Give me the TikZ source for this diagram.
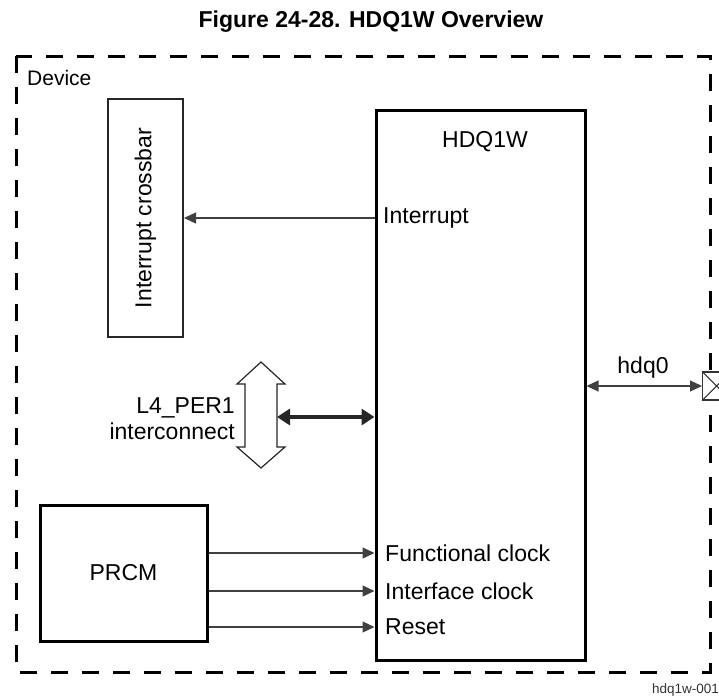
\documentclass[tikz,border=0pt]{standalone}
\usepackage{fontspec}
\setmainfont{Liberation Sans}
\usetikzlibrary{arrows.meta}
\newcommand{\lab}{\fontsize{23}{26}\selectfont}
\tikzset{
  box/.style={draw=black, fill=white, line width=3pt, inner sep=0pt},
  thinbox/.style={draw=black!85, fill=white, line width=2pt, inner sep=0pt},
  lbl/.style={font=\lab, inner sep=0pt, anchor=west},
  sig/.style={draw=black!75, line width=1.2pt, -{Triangle[length=12pt,width=11pt]}},
  bus/.style={draw=black!85, line width=3.5pt, {Triangle[length=13pt,width=16pt]}-{Triangle[length=13pt,width=16pt]}},
  frame/.style={draw=black, line width=3pt, dash pattern=on 17pt off 14pt}
}
\begin{document}
\begin{tikzpicture}[x=1pt,y=-1pt]
\useasboundingbox (0,0) rectangle (719,696);
\clip (0,0) rectangle (719,696);
% title
\node[font=\fontsize{23}{26}\selectfont\bfseries, inner sep=0pt, anchor=base] (title) at (371,27) {Figure 24-28. HDQ1W Overview};
% frame
\draw[frame] (16,56) rectangle (710,672);
\node[lbl, anchor=base west, font=\fontsize{21}{24}\selectfont] (dev) at (27,85) {Device};
% boxes
\node[thinbox, minimum width=75pt, minimum height=238pt] (xbar) at (145.5,218) {};
\node[font=\lab, rotate=90, inner sep=0pt] (xbart) at (xbar.center) {Interrupt crossbar};
\node[box, minimum width=209pt, minimum height=550pt] (hdq) at (480.5,385) {};
\node[font=\lab, inner sep=0pt, anchor=base] (hdqt) at (485,147) {HDQ1W};
\node[box, minimum width=167pt, minimum height=136pt] (prcm) at (123.5,573) {};
\node[font=\lab, inner sep=0pt] (prcmt) at (prcm.center) {PRCM};
% port
\node[draw=black!80, fill=white, line width=1.2pt, minimum width=28pt, minimum height=28pt, inner sep=0pt, anchor=west] (port) at (702,386) {};
\draw[draw=black!80, line width=1pt] (port.north west) -- (port.south east) (port.south west) -- (port.north east);
% labels inside HDQ1W
\node[lbl] (intl) at (383,218) {Interrupt};
\node[lbl] (fcl) at (385,553) {Functional clock};
\node[lbl] (icl) at (385,591) {Interface clock};
\node[lbl] (rsl) at (385,627) {Reset};
% signals
\draw[sig] (hdq.west |- intl.west) -- (xbar.east |- intl.west);
\draw[sig] (prcm.east |- fcl.west) -- (hdq.west |- fcl.west);
\draw[sig] (prcm.east |- icl.west) -- (hdq.west |- icl.west);
\draw[sig] (prcm.east |- rsl.west) -- (hdq.west |- rsl.west);
\draw[sig, {Triangle[length=12pt,width=11pt]}-{Triangle[length=12pt,width=11pt]}] (hdq.east |- port.west) -- (port.west);
\node[font=\lab, inner sep=0pt, anchor=base] (hdq0) at (643,373) {hdq0};
% interconnect block arrow
\draw[draw=black!85, line width=1.2pt, fill=white]
  (261,362) -- (285,384) -- (277,384) -- (277,447) -- (285,447) -- (261,468)
  -- (237,447) -- (245,447) -- (245,384) -- (237,384) -- cycle;
\coordinate (l4e) at (277,417);
\draw[bus] (l4e) -- (hdq.west |- l4e);
\node[font=\lab, inner sep=0pt, anchor=base east] (l4a) at (235,413) {L4\_PER1};
\node[font=\lab, inner sep=0pt, anchor=base east] (l4b) at (235,439) {interconnect};
% id
\node[font=\fontsize{13.5}{16}\selectfont, inner sep=0pt, anchor=base east, text=black!80] (id) at (719,693) {hdq1w-001};
\end{tikzpicture}
\end{document}
